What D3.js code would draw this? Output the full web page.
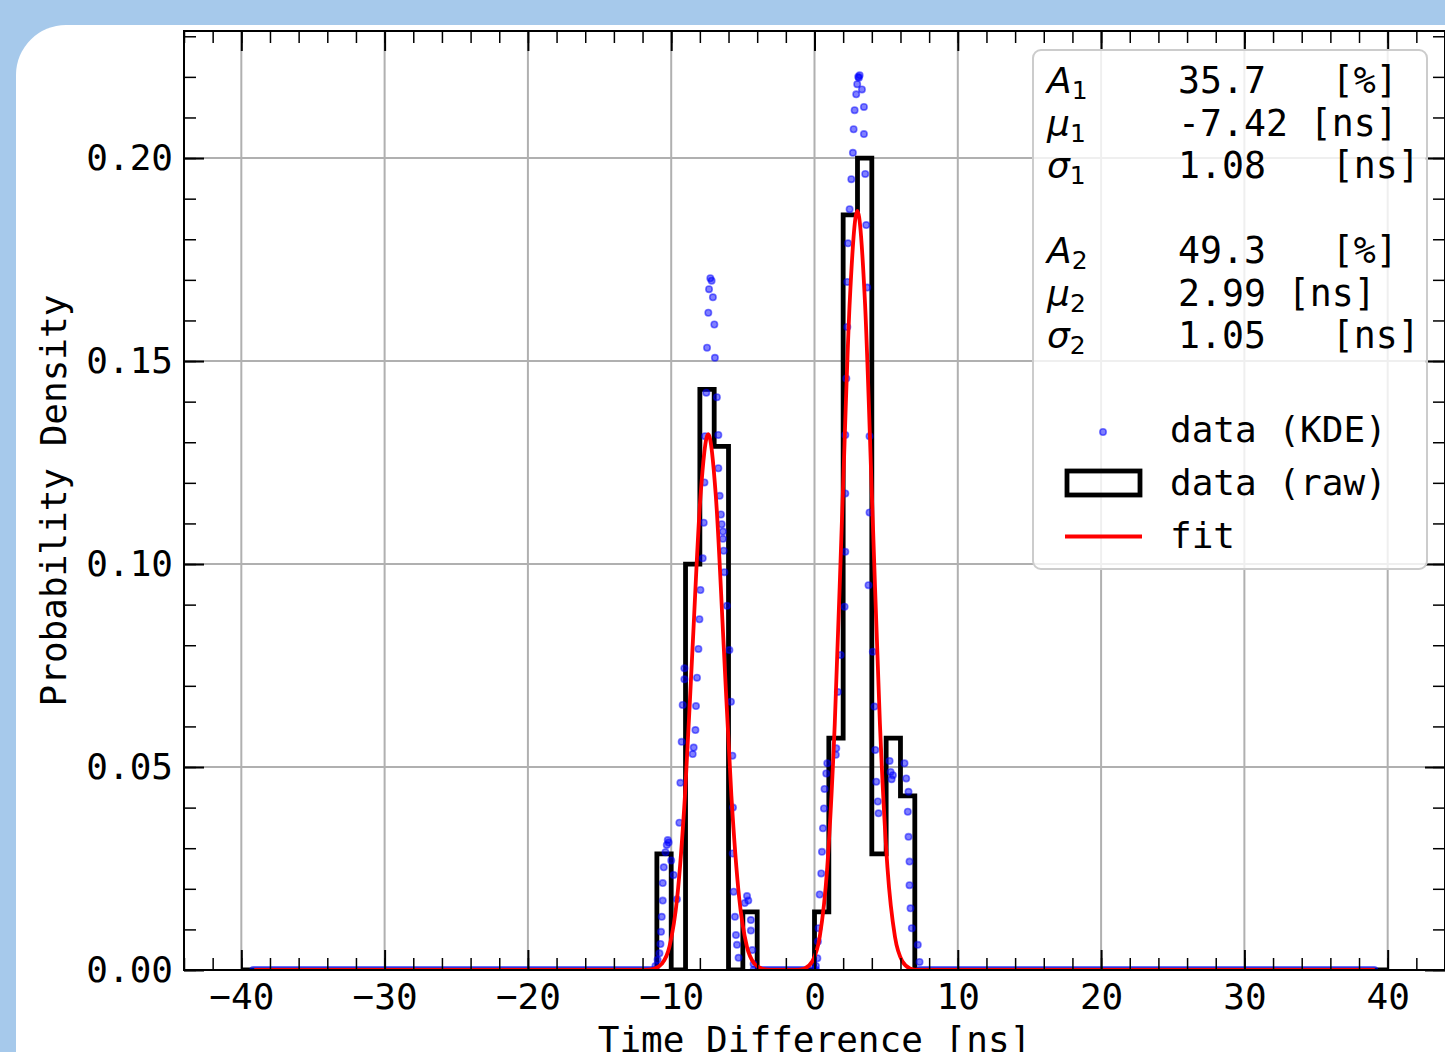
<!DOCTYPE html>
<html>
<head>
<meta charset="utf-8">
<script src="https://cdn.jsdelivr.net/npm/d3@7"></script>
<style>
    body { margin: 0; background: #a6c9eb; overflow: hidden; }
    svg { display: block; }
</style>
</head>
<body>
<div id="chart"></div>
<script>
// raw histogram (step outline), bin edges in ns and density per bin
const histEdges = [-40, -11, -10, -9, -8, -7, -6, -5, -4, -3, -2, -1, 0, 1, 2, 3, 4, 5, 6, 7, 40];
const histDensity = [0, 0.0286, 0, 0.100, 0.143, 0.129, 0, 0.0143, 0, 0, 0, 0, 0.0143, 0.0571, 0.186, 0.200, 0.0286, 0.0571, 0.0429, 0];

// KDE dots (x in ns, density)
const kdeX = [-11.10, -10.95, -10.82, -10.75, -10.71, -10.66, -10.59, -10.59, -10.52, -10.40, -10.31, -10.24, -10.18, -10.00, -9.83, -9.60,
    -9.43, -9.36, -9.27, -9.20, -9.08, -9.08, -8.50, -8.43, -8.31, -8.27, -8.20, -8.10, -8.03, -7.96, -7.80, -7.73, -7.68, -7.64,
    -7.55, -7.50, -7.41, -7.36, -7.27, -7.18, -7.09, -6.99, -6.95, -6.81, -6.71, -6.71, -6.62, -6.53, -6.48, -6.39, -6.39, -6.34,
    -6.29, -6.11, -5.94, -5.83, -5.73, -5.69, -5.71, -5.64, -5.55, -5.48, -5.41, -5.30, -4.87, -4.71, -4.62, -4.44, -4.44, -4.34, -4.25,
    0.10, 0.20, 0.24, 0.29, 0.36, 0.47, 0.52, 0.59, 0.66, 0.70, 0.82, 0.89, 1.49, 1.52, 1.63, 1.82, 2.10, 2.15, 2.15, 2.15, 2.22,
    2.29, 2.29, 2.34, 2.45, 2.57, 2.68, 2.73, 2.80, 2.91, 2.98, 3.05, 3.10, 3.15, 3.31, 3.45, 3.45, 3.54, 3.61, 3.68, 3.77, 3.84,
    3.84, 4.07, 4.19, 4.24, 4.31, 4.42, 4.47, 5.24, 5.31, 5.38, 5.47, 6.28, 6.40, 6.51, 6.56, 6.56, 6.63, 6.63, 6.70, 6.79, 7.21, 7.33];
const kdeY = [0.0010, 0.0025, 0.0041, 0.0064, 0.0094, 0.0131, 0.0171, 0.0214, 0.0253, 0.0290, 0.0308, 0.0320, 0.0314, 0.0270, 0.0234, 0.0174,
    0.0363, 0.0461, 0.0562, 0.0653, 0.0716, 0.0743, 0.0532, 0.0548, 0.0591, 0.0650, 0.0720, 0.0791, 0.0864, 0.0936, 0.1014, 0.1102, 0.1201, 0.1315,
    0.1422, 0.1533, 0.1619, 0.1677, 0.1704, 0.1698, 0.1657, 0.1590, 0.1508, 0.1411, 0.1318, 0.1236, 0.1168, 0.1122, 0.1098, 0.1080, 0.1062, 0.1033,
    0.0980, 0.0897, 0.0788, 0.0661, 0.0528, 0.0400, 0.0287, 0.0193, 0.0131, 0.0086, 0.0062, 0.0030, 0.0165, 0.0182, 0.0171, 0.0123, 0.0097, 0.0049, 0.0015,
    0.0010, 0.0029, 0.0070, 0.0103, 0.0186, 0.0238, 0.0291, 0.0349, 0.0398, 0.0446, 0.0484, 0.0509, 0.0530, 0.0546, 0.0685, 0.0776, 0.0895, 0.1030, 0.1174, 0.1318, 0.1457,
    0.1584, 0.1695, 0.1790, 0.1874, 0.1948, 0.2013, 0.2071, 0.2118, 0.2157, 0.2182, 0.2200, 0.2198, 0.2204, 0.2169, 0.2126, 0.2059, 0.1961, 0.1835, 0.1681, 0.0948, 0.1315,
    0.1127, 0.0784, 0.0649, 0.0542, 0.0464, 0.0415, 0.0386, 0.0515, 0.0488, 0.0470, 0.0480, 0.0509, 0.0472, 0.0390, 0.0439, 0.0328, 0.0267, 0.0209, 0.0152, 0.0103, 0.0062, 0.0020];
// stretches where the KDE dots sit on zero and merge into a line
const kdeFlat = [[-39.16, -11.10], [-4.25, 0.10], [7.33, 39.06]];

// fit curve
const fitX = [-39.1, -11.74, -11.2, -10.66, -10.12, -9.58, -9.04, -8.50, -7.96, -7.42, -6.88, -6.34, -5.80, -5.26, -4.72, -4.18, -3.64, -3.1,
    -1.21, -0.685, -0.16, 0.365, 0.89, 1.415, 1.94, 2.465, 2.99, 3.515, 4.04, 4.565, 5.09, 5.615, 6.14, 6.665, 7.19, 39.1];
const fitY = [0, 0, 0.0003, 0.0015, 0.0058, 0.0179, 0.0429, 0.0801, 0.1165, 0.132, 0.1165, 0.0801, 0.0429, 0.0179, 0.0058, 0.0015, 0.0003, 0,
    0, 0.0004, 0.0021, 0.0082, 0.0253, 0.0607, 0.1134, 0.165, 0.187, 0.165, 0.1134, 0.0607, 0.0253, 0.0082, 0.0021, 0.0004, 0, 0];

const xTicks = [-40, -30, -20, -10, 0, 10, 20, 30, 40];
const yTicks = [0, 0.05, 0.10, 0.15, 0.20];

// fit parameters shown in the legend
const paramSymbols = ["A", "μ", "σ", "A", "μ", "σ"];
const paramIndex = ["1", "1", "1", "2", "2", "2"];
const paramText = ["35.7   [%]", "-7.42 [ns]", "1.08   [ns]", "49.3   [%]", "2.99 [ns]", "1.05   [ns]"];
const legendLabels = ["data (KDE)", "data (raw)", "fit"];

const width = 1445, height = 1052;
const plot = { left: 184, right: 1445, top: 31, bottom: 970 };
const mono = "'DejaVu Sans Mono', monospace";
const kdeColor = "#0000ff";
const dotR = 3.2;

const svg = d3.select("#chart").append("svg")
    .attr("width", width)
    .attr("height", height);

// page framing: blue border with a rounded white card
svg.append("rect").attr("width", width).attr("height", height).attr("fill", "#a6c9eb");
svg.append("rect")
    .attr("x", 16).attr("y", 25)
    .attr("width", 1600).attr("height", 1200)
    .attr("rx", 50)
    .attr("fill", "#ffffff");

const x = d3.scaleLinear().domain([-44, 44]).range([plot.left, plot.right]);
const y = d3.scaleLinear().domain([0, 0.2313]).range([plot.bottom, plot.top]);

svg.append("clipPath").attr("id", "clip")
    .append("rect")
    .attr("x", plot.left).attr("y", plot.top)
    .attr("width", plot.right - plot.left).attr("height", plot.bottom - plot.top);

function drawGrid() {
    const g = svg.append("g").attr("stroke", "#b0b0b0").attr("stroke-width", 2);
    g.selectAll("line.vx").data(xTicks).join("line")
        .attr("x1", d => x(d)).attr("x2", d => x(d))
        .attr("y1", plot.top).attr("y2", plot.bottom);
    g.selectAll("line.hy").data(yTicks).join("line")
        .attr("x1", plot.left).attr("x2", plot.right)
        .attr("y1", d => y(d)).attr("y2", d => y(d));
}

function drawHist() {
    const pts = [[histEdges[0], 0]];
    histDensity.forEach((h, i) => {
        pts.push([histEdges[i], h]);
        pts.push([histEdges[i + 1], h]);
    });
    pts.push([histEdges[histEdges.length - 1], 0]);
    svg.append("path")
        .attr("clip-path", "url(#clip)")
        .attr("d", d3.line().x(d => x(d[0])).y(d => y(d[1]))(pts))
        .attr("fill", "none")
        .attr("stroke", "#000")
        .attr("stroke-width", 4.8)
        .attr("stroke-linejoin", "miter");
}

function dotStyle(sel) {
    sel.attr("r", dotR)
        .attr("fill", kdeColor).attr("fill-opacity", 0.5)
        .attr("stroke", kdeColor).attr("stroke-opacity", 0.5).attr("stroke-width", 1.6);
}

function drawKde() {
    const g = svg.append("g").attr("clip-path", "url(#clip)");
    // dense zero stretches
    g.selectAll("line").data(kdeFlat).join("line")
        .attr("x1", d => x(d[0])).attr("x2", d => x(d[1]))
        .attr("y1", y(0)).attr("y2", y(0))
        .attr("stroke", kdeColor)
        .attr("stroke-opacity", 0.6)
        .attr("stroke-width", 8)
        .attr("stroke-linecap", "round");
    g.selectAll("circle").data(kdeX.map((v, i) => [v, kdeY[i]])).join("circle")
        .attr("cx", d => x(d[0]))
        .attr("cy", d => y(d[1]))
        .call(dotStyle);
}

function drawFit() {
    const line = d3.line()
        .x(d => x(d))
        .y((d, i) => y(fitY[i]))
        .curve(d3.curveMonotoneX);
    svg.append("path")
        .attr("clip-path", "url(#clip)")
        .attr("d", line(fitX))
        .attr("fill", "none")
        .attr("stroke", "#ff0000")
        .attr("stroke-width", 3.8);
}

function styleAxis(g, width) {
    g.attr("font-family", mono).attr("font-size", 36);
    g.select(".domain").remove();
    g.selectAll("line").attr("stroke", "#000").attr("stroke-width", width);
    g.selectAll("text").attr("fill", "#000");
}

function drawAxes() {
    const major = 20, minor = 12;
    const fmtY = d3.format(".2f");

    // minor ticks on all four sides
    svg.append("g").attr("transform", `translate(0,${plot.bottom})`)
        .call(d3.axisBottom(x).ticks(44).tickSizeInner(-minor).tickSizeOuter(0).tickFormat(""))
        .call(g => styleAxis(g, 1.5));
    svg.append("g").attr("transform", `translate(0,${plot.top})`)
        .call(d3.axisTop(x).ticks(44).tickSizeInner(-minor).tickSizeOuter(0).tickFormat(""))
        .call(g => styleAxis(g, 1.5));
    svg.append("g").attr("transform", `translate(${plot.left},0)`)
        .call(d3.axisLeft(y).ticks(23).tickSizeInner(-minor).tickSizeOuter(0).tickFormat(""))
        .call(g => styleAxis(g, 1.5));
    svg.append("g").attr("transform", `translate(${plot.right},0)`)
        .call(d3.axisRight(y).ticks(23).tickSizeInner(-minor).tickSizeOuter(0).tickFormat(""))
        .call(g => styleAxis(g, 1.5));

    // major ticks, labels on bottom and left
    svg.append("g").attr("transform", `translate(0,${plot.bottom})`)
        .call(d3.axisBottom(x).tickValues(xTicks).tickSizeInner(-major).tickSizeOuter(0).tickPadding(13).tickFormat(d3.format("d")))
        .call(g => styleAxis(g, 2));
    svg.append("g").attr("transform", `translate(0,${plot.top})`)
        .call(d3.axisTop(x).tickValues(xTicks).tickSizeInner(-major).tickSizeOuter(0).tickFormat(""))
        .call(g => styleAxis(g, 2));
    svg.append("g").attr("transform", `translate(${plot.left},0)`)
        .call(d3.axisLeft(y).tickValues(yTicks).tickSizeInner(-major).tickSizeOuter(0).tickPadding(11).tickFormat(fmtY))
        .call(g => styleAxis(g, 2));
    svg.append("g").attr("transform", `translate(${plot.right},0)`)
        .call(d3.axisRight(y).tickValues(yTicks).tickSizeInner(-major).tickSizeOuter(0).tickFormat(""))
        .call(g => styleAxis(g, 2));

    // spines
    svg.append("rect")
        .attr("x", plot.left).attr("y", plot.top)
        .attr("width", plot.right - plot.left).attr("height", plot.bottom - plot.top)
        .attr("fill", "none").attr("stroke", "#000").attr("stroke-width", 2);

    // x label sits against the bottom edge, as in the source figure
    svg.append("text")
        .attr("x", (plot.left + plot.right) / 2).attr("y", 1052)
        .attr("text-anchor", "middle")
        .attr("font-family", mono).attr("font-size", 36)
        .text("Time Difference [ns]");
    svg.append("text")
        .attr("transform", `translate(66,${(plot.top + plot.bottom) / 2}) rotate(-90)`)
        .attr("text-anchor", "middle")
        .attr("font-family", mono).attr("font-size", 36)
        .text("Probability Density");
}

function drawLegend() {
    const g = svg.append("g");
    g.append("rect")
        .attr("x", 1033).attr("y", 50)
        .attr("width", 394).attr("height", 519)
        .attr("rx", 8)
        .attr("fill", "#ffffff").attr("fill-opacity", 0.8)
        .attr("stroke", "#cccccc").attr("stroke-width", 2);

    // parameter block, blank row between the two components
    const rowY = i => 93 + (i < 3 ? i : i + 1) * 42.5;
    paramSymbols.forEach((s, i) => {
        const t = g.append("text")
            .attr("x", 1047).attr("y", rowY(i))
            .attr("font-family", "'DejaVu Sans', sans-serif").attr("font-size", 36);
        t.append("tspan").attr("font-style", "italic").text(s);
        t.append("tspan").attr("font-size", 25).attr("dy", 6).text(paramIndex[i]);
        g.append("text")
            .attr("x", 1178).attr("y", rowY(i))
            .attr("font-family", mono).attr("font-size", 36.5)
            .attr("xml:space", "preserve")
            .style("white-space", "pre")
            .text(paramText[i]);
    });

    // handles
    g.append("circle").attr("cx", 1103).attr("cy", 432).call(dotStyle);
    g.append("rect")
        .attr("x", 1067).attr("y", 471).attr("width", 73).attr("height", 24)
        .attr("fill", "none").attr("stroke", "#000").attr("stroke-width", 4.8);
    g.append("line")
        .attr("x1", 1065).attr("x2", 1142).attr("y1", 536.5).attr("y2", 536.5)
        .attr("stroke", "#ff0000").attr("stroke-width", 3.8);

    g.selectAll("text.lab").data(legendLabels).join("text")
        .attr("class", "lab")
        .attr("x", 1170)
        .attr("y", (d, i) => 442 + i * 53)
        .attr("font-family", mono).attr("font-size", 36)
        .style("white-space", "pre")
        .text(d => d);
}

drawGrid();
drawHist();
drawKde();
drawFit();
drawAxes();
drawLegend();
</script>
</body>
</html>
